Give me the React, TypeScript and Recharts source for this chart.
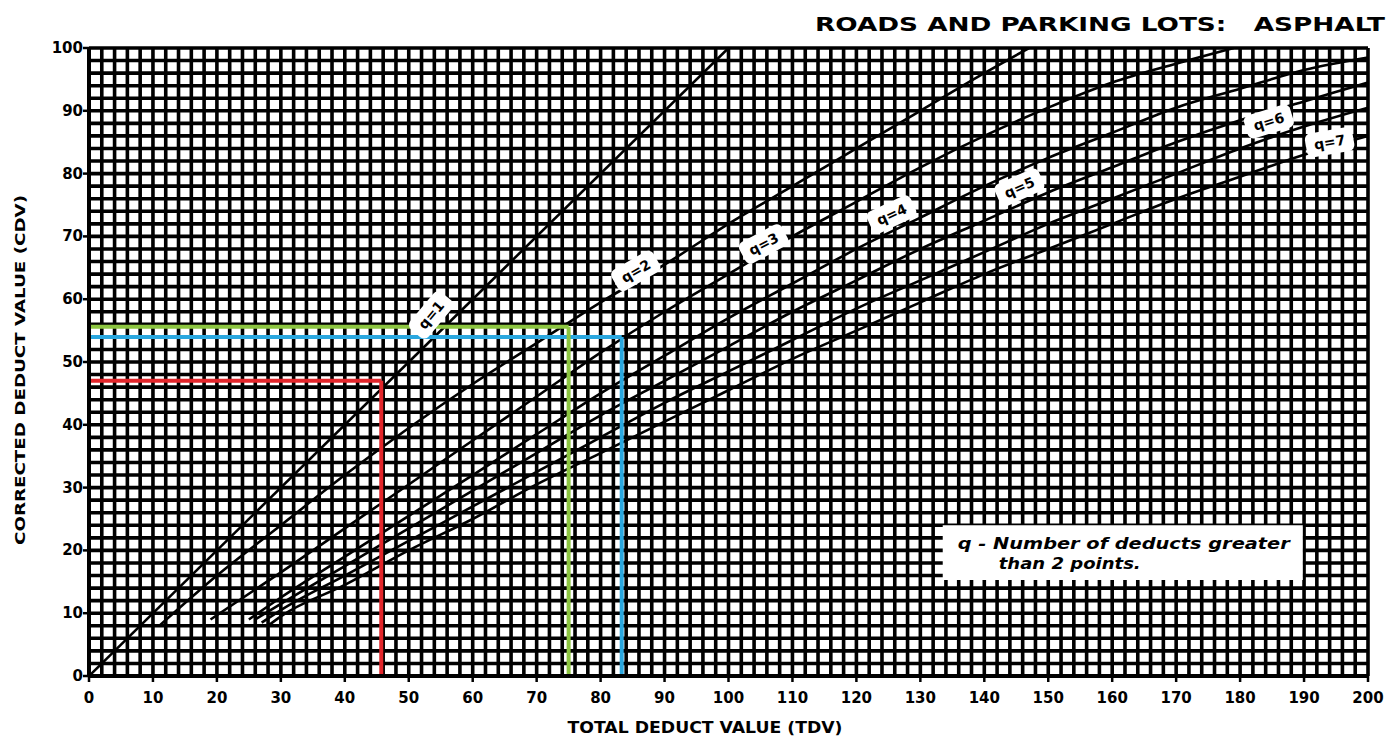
import React from 'react';
import {
  LineChart,
  Line,
  XAxis,
  YAxis,
  CartesianGrid,
  ReferenceLine,
  ReferenceDot,
  ReferenceArea,
} from 'recharts';

// ---- data ----
const q1Tdv = [0, 100];
const q1Cdv = [0, 100];
const q2Tdv = [11, 20, 30, 40, 50, 60, 70, 80, 90, 100, 110, 120, 130, 140, 147];
const q2Cdv = [8, 16, 24, 32, 39.5, 46.5, 53, 59.5, 65.5, 72, 78, 84, 90, 96, 100];
const q3Tdv = [19, 30, 40, 50, 60, 70, 80, 90, 100, 110, 120, 130, 140, 150, 160, 170, 179];
const q3Cdv = [9, 16.5, 23.5, 30.5, 37.5, 44.5, 51.5, 58, 64, 70, 75.5, 81, 86, 90.5, 94.5, 97.5, 100];
const q4Tdv = [25, 30, 40, 50, 60, 70, 80, 90, 100, 110, 120, 130, 140, 150, 160, 170, 180, 190, 200];
const q4Cdv = [9, 12.5, 19, 25.5, 32, 38.5, 45, 51, 57, 62.5, 68, 73, 78, 82.5, 86.5, 90.5, 93.5, 96.5, 98.5];
const q5Tdv = [26, 30, 40, 50, 60, 70, 80, 90, 100, 110, 120, 130, 140, 150, 160, 170, 180, 190, 200];
const q5Cdv = [9, 11.5, 17.5, 23.5, 29.5, 35.5, 41.5, 47, 52.5, 58, 63, 68, 72.5, 77, 81, 85, 88.5, 91.5, 94.5];
const q6Tdv = [27, 30, 40, 50, 60, 70, 80, 90, 100, 110, 120, 130, 140, 150, 160, 170, 180, 190, 200];
const q6Cdv = [8.5, 10.5, 16, 21.5, 27, 32.5, 38, 43.5, 48.5, 53.5, 58.5, 63, 67.5, 72, 76, 80, 84, 87.5, 90.5];
const q7Tdv = [28, 30, 40, 50, 60, 70, 80, 90, 100, 110, 120, 130, 140, 150, 160, 170, 180, 190, 200];
const q7Cdv = [8, 9.5, 14.5, 20, 25, 30.5, 35.5, 40.5, 45.5, 50.5, 55, 59.5, 64, 68, 72, 76, 79.5, 83, 86];

const curveNames = ['q=1', 'q=2', 'q=3', 'q=4', 'q=5', 'q=6', 'q=7'];
const curveTdv = [q1Tdv, q2Tdv, q3Tdv, q4Tdv, q5Tdv, q6Tdv, q7Tdv];
const curveCdv = [q1Cdv, q2Cdv, q3Cdv, q4Cdv, q5Cdv, q6Cdv, q7Cdv];

// curve labels
const labelTdv = [53.5, 85.5, 105.5, 125.5, 145.5, 184.5, 194];
const labelCdv = [57.5, 64.5, 68.8, 73.5, 77.8, 88.3, 85];
const labelAngle = [-50, -30, -28, -25, -24, -17, -10];

// highlighted readings
const markNames = ['red', 'green', 'blue'];
const markTdv = [45.7, 75, 83.3];
const markCdv = [47, 55.6, 54];
const markColors = ['#e3262b', '#8cc540', '#2aa7df'];

// axes
const xLabelTicks = [0, 10, 20, 30, 40, 50, 60, 70, 80, 90, 100, 110, 120, 130, 140, 150, 160, 170, 180, 190, 200];
const yLabelTicks = [0, 10, 20, 30, 40, 50, 60, 70, 80, 90, 100];
const gridStep = 2;

const titleText = 'ROADS AND PARKING LOTS:   ASPHALT';
const xTitle = 'TOTAL DEDUCT VALUE (TDV)';
const yTitle = 'CORRECTED DEDUCT VALUE (CDV)';
const noteLine1 = 'q - Number of deducts greater';
const noteLine2 = 'than 2 points.';

const xGridTicks: number[] = [];
for (let v = 0; v <= 200; v += gridStep) xGridTicks.push(v);
const yGridTicks: number[] = [];
for (let v = 0; v <= 100; v += gridStep) yGridTicks.push(v);

const curves = curveNames.map((name, i) => ({
  name,
  data: curveTdv[i].map((x, j) => ({ x, y: curveCdv[i][j] })),
}));

const FONT = '"DejaVu Sans", "Liberation Sans", Arial, sans-serif';

const XTick = (props: any) => {
  const { x, y, payload } = props;
  const v = payload.value;
  if (!xLabelTicks.includes(v)) return <g />;
  return (
    <g>
      <line x1={x} x2={x} y1={y} y2={y + 6} stroke="#000" strokeWidth={2.5} />
      <text
        x={x}
        y={y + 27}
        textAnchor="middle"
        fontSize={15}
        fontWeight="bold"
        fontFamily={FONT}
        fill="#000"
      >
        {v}
      </text>
    </g>
  );
};

const YTick = (props: any) => {
  const { x, y, payload } = props;
  const v = payload.value;
  if (!yLabelTicks.includes(v)) return <g />;
  return (
    <g>
      <line x1={x - 6} x2={x} y1={y} y2={y} stroke="#000" strokeWidth={2.5} />
      <text
        x={x - 6}
        y={y + 5}
        textAnchor="end"
        fontSize={15}
        fontWeight="bold"
        fontFamily={FONT}
        fill="#000"
      >
        {v}
      </text>
    </g>
  );
};

const makeLabelShape = (text: string, angle: number) => (p: any) => {
  const { cx, cy } = p;
  return (
    <g transform={`translate(${cx},${cy}) rotate(${angle})`}>
      <rect x={-24} y={-12} width={48} height={24} rx={6} fill="#fff" />
      <text
        x={0}
        y={5}
        textAnchor="middle"
        fontSize={14}
        fontWeight="bold"
        fontFamily={FONT}
        fill="#000"
      >
        {text}
      </text>
    </g>
  );
};

const NoteLabel = (props: any) => {
  const vb = props.viewBox || {};
  const { x = 0, y = 0 } = vb;
  return (
    <g>
      <text
        x={x + 15}
        y={y + 24}
        fontSize={15}
        fontWeight="bold"
        fontStyle="italic"
        fontFamily={FONT}
        textLength={332}
        lengthAdjust="spacingAndGlyphs"
        fill="#000"
      >
        {noteLine1}
      </text>
      <text
        x={x + 56}
        y={y + 44}
        fontSize={15}
        fontWeight="bold"
        fontStyle="italic"
        fontFamily={FONT}
        textLength={142}
        lengthAdjust="spacingAndGlyphs"
        fill="#000"
      >
        {noteLine2}
      </text>
    </g>
  );
};

export default function App() {
  return (
    <div style={{ position: 'absolute', left: 0, top: 0, width: 1394, height: 740, background: '#fff' }}>
      <LineChart
        width={1394}
        height={740}
        margin={{ top: 48, right: 26, bottom: 34, left: 29 }}
      >
        <CartesianGrid stroke="#000" strokeWidth={3.6} />
        <XAxis
          type="number"
          dataKey="x"
          domain={[0, 200]}
          ticks={xGridTicks}
          interval={0}
          tick={<XTick />}
          tickLine={false}
          tickSize={0}
          tickMargin={0}
          height={30}
          axisLine={{ stroke: '#000', strokeWidth: 4 }}
          allowDataOverflow
        />
        <YAxis
          type="number"
          dataKey="y"
          domain={[0, 100]}
          ticks={yGridTicks}
          interval={0}
          tick={<YTick />}
          tickLine={false}
          tickSize={0}
          tickMargin={0}
          width={60}
          axisLine={{ stroke: '#000', strokeWidth: 4 }}
          allowDataOverflow
        />
        {curves.map((c) => (
          <Line
            key={c.name}
            data={c.data}
            dataKey="y"
            type="monotone"
            stroke="#000"
            strokeWidth={2.6}
            dot={false}
            isAnimationActive={false}
          />
        ))}
        <ReferenceArea
          x1={133.5}
          x2={189.8}
          y1={15.3}
          y2={24}
          fill="#fff"
          fillOpacity={1}
          stroke="none"
          label={(p: any) => <NoteLabel {...p} />}
        />
        {markNames.map((m, i) => (
          <ReferenceLine
            key={m + 'h'}
            segment={[
              { x: 0, y: markCdv[i] },
              { x: markTdv[i], y: markCdv[i] },
            ]}
            stroke={markColors[i]}
            strokeWidth={4}
          />
        ))}
        {markNames.map((m, i) => (
          <ReferenceLine
            key={m + 'v'}
            segment={[
              { x: markTdv[i], y: 0 },
              { x: markTdv[i], y: markCdv[i] },
            ]}
            stroke={markColors[i]}
            strokeWidth={4}
          />
        ))}
        {curveNames.map((n, i) => (
          <ReferenceDot
            key={n}
            x={labelTdv[i]}
            y={labelCdv[i]}
            r={1}
            shape={makeLabelShape(n, labelAngle[i])}
          />
        ))}
      </LineChart>
      <svg
        width={1394}
        height={740}
        style={{ position: 'absolute', left: 0, top: 0, pointerEvents: 'none' }}
      >
        <text
          x={1385}
          y={31}
          textAnchor="end"
          fontSize={19}
          fontWeight="bold"
          fontFamily={FONT}
          textLength={570}
          lengthAdjust="spacingAndGlyphs"
          fill="#000"
          style={{ whiteSpace: 'pre' }}
        >
          {titleText}
        </text>
        <text
          x={705}
          y={733}
          textAnchor="middle"
          fontSize={15}
          fontWeight="bold"
          fontFamily={FONT}
          textLength={275}
          lengthAdjust="spacingAndGlyphs"
          fill="#000"
        >
          {xTitle}
        </text>
        <text
          x={0}
          y={0}
          transform="translate(25,370) rotate(-90)"
          textAnchor="middle"
          fontSize={14}
          fontWeight="bold"
          fontFamily={FONT}
          textLength={350}
          lengthAdjust="spacingAndGlyphs"
          fill="#000"
        >
          {yTitle}
        </text>
      </svg>
    </div>
  );
}
